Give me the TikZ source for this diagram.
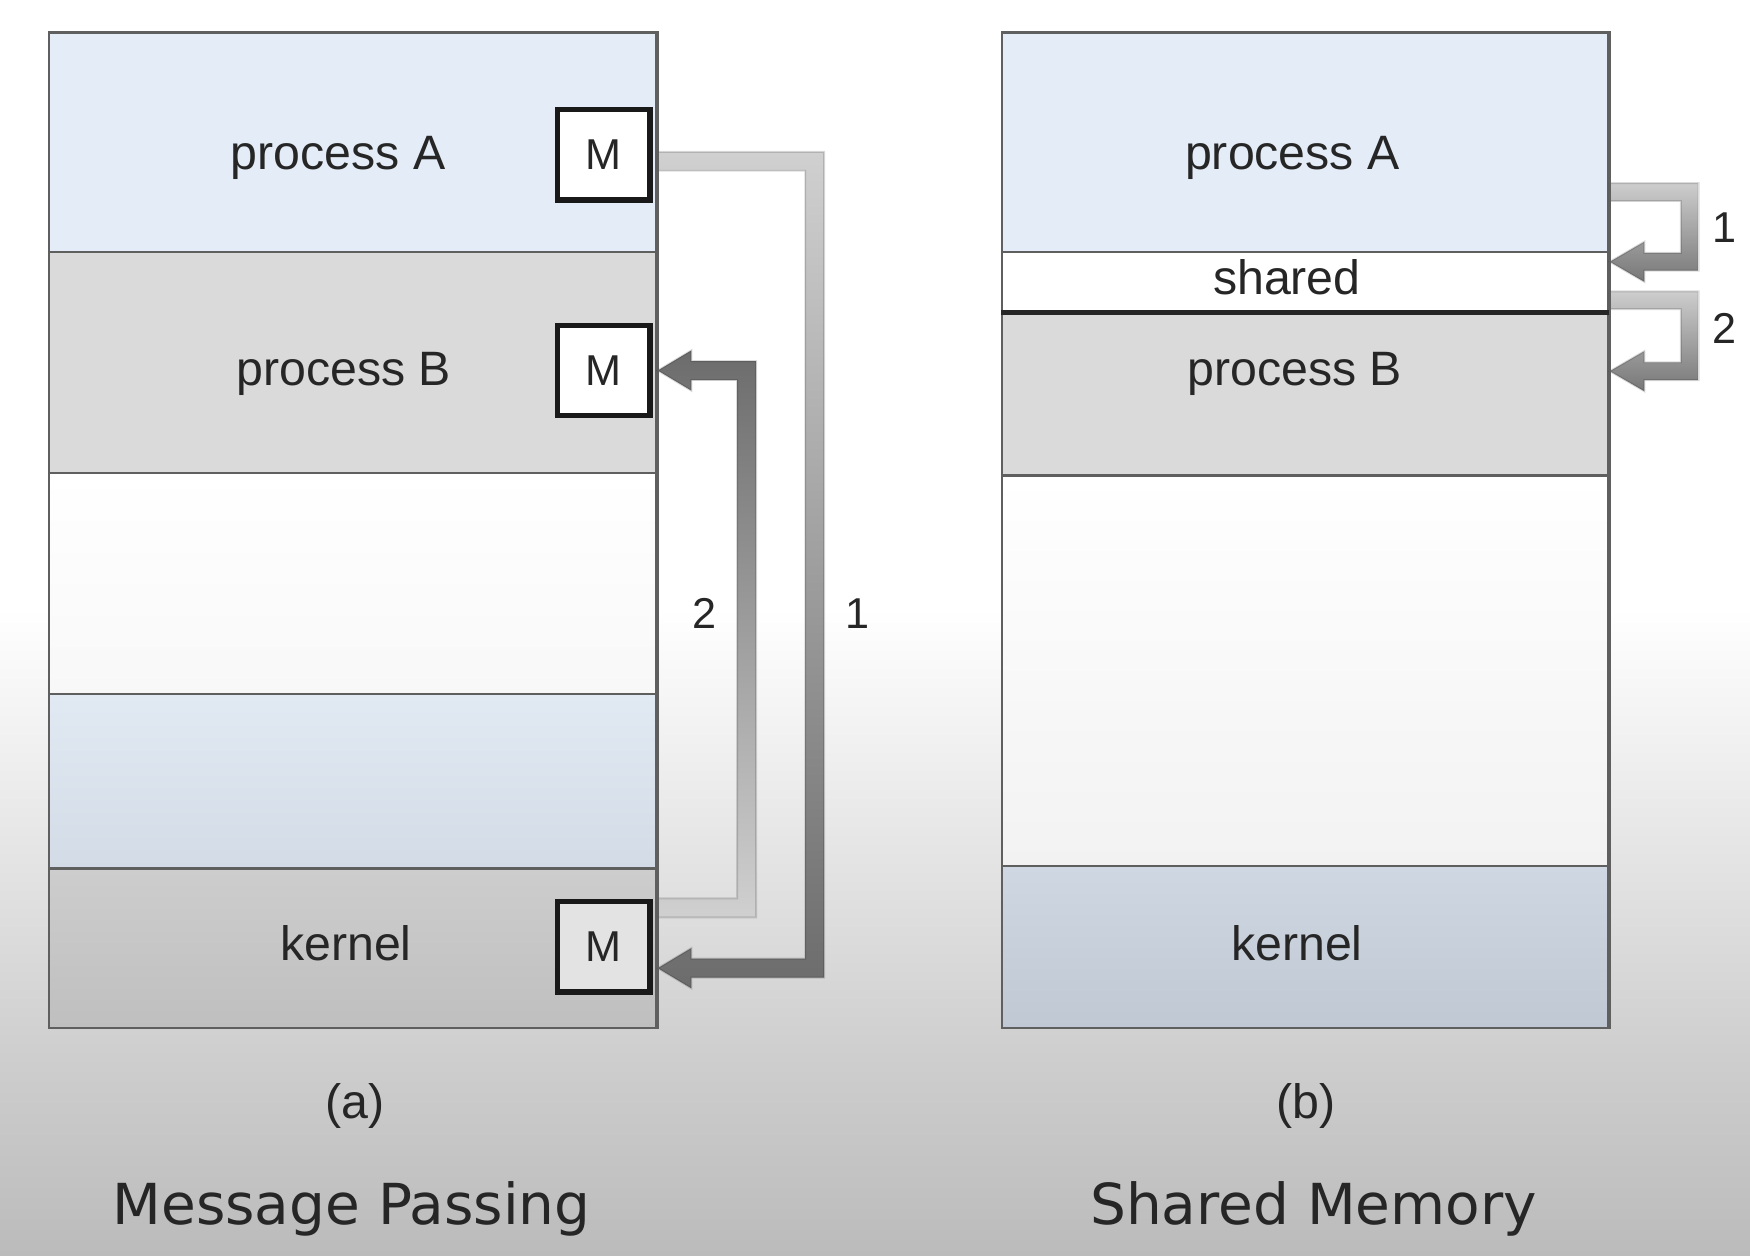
\documentclass[tikz,border=0pt]{standalone}
\usepackage{fontspec}
\setmainfont{Liberation Sans}
\newfontfamily\capfont{DejaVu Sans}
\usetikzlibrary{calc}
\definecolor{procA}{HTML}{E3ECF7}
\definecolor{procB}{HTML}{DADADA}
\definecolor{edgec}{HTML}{5F5F5F}
\definecolor{txt}{HTML}{262626}
\definecolor{lowAt}{HTML}{E1E9F3}
\definecolor{lowAb}{HTML}{D3DCE6}
\definecolor{kerLt}{HTML}{CDCDCD}
\definecolor{kerLb}{HTML}{BFBFBF}
\definecolor{kerRt}{HTML}{CFD8E2}
\definecolor{kerRb}{HTML}{C0C9D3}
\definecolor{whb}{HTML}{F8F8F8}
\definecolor{whRb}{HTML}{F2F2F2}
\definecolor{mkfill}{HTML}{E3E3E3}
\definecolor{arrL}{HTML}{D0D0D0}
\definecolor{arrD}{HTML}{6C6C6C}
\definecolor{arrRL}{HTML}{CDCDCD}
\definecolor{arrRD}{HTML}{777777}
\definecolor{bgA}{HTML}{F0F0F0}
\definecolor{bgB}{HTML}{DFDFDF}
\definecolor{bgC}{HTML}{CDCDCD}
\definecolor{bgD}{HTML}{BBBBBB}
\tikzset{
  sec/.style={rectangle, draw=edgec, line width=0.6pt, inner sep=0pt, anchor=north west},
  secL/.style={sec, minimum width=5.44cm},
  secR/.style={sec, minimum width=5.43cm},
  mbox/.style={rectangle, draw=black!90, line width=1.4pt, fill=white, minimum width=0.83cm, minimum height=0.81cm, inner sep=0pt, text=txt, font=\fontsize{11}{13}\selectfont},
  lbl/.style={anchor=base, inner sep=0pt, text=txt, font=\fontsize{12.3}{14}\selectfont},
  num/.style={anchor=base, inner sep=0pt, text=txt, font=\fontsize{11}{13}\selectfont},
  capt/.style={anchor=base, inner sep=0pt, text=txt, font=\capfont\fontsize{14.4}{17}\selectfont},
  bandedge/.style={draw=black, draw opacity=0.14, line width=0.5pt, line join=miter},
}
\begin{document}
\begin{tikzpicture}[x=0.01cm, y=-0.01cm]
\useasboundingbox (0,0) rectangle (1568,1125);
% background
\fill[white] (0,0) rectangle (1568,1125);
\shade[top color=white, bottom color=bgA] (0,545) rectangle (1568,670.5);
\shade[top color=bgA, bottom color=bgB] (0,670) rectangle (1568,810.5);
\shade[top color=bgB, bottom color=bgC] (0,810) rectangle (1568,955.5);
\shade[top color=bgC, bottom color=bgD] (0,955) rectangle (1568,1125);

% ----- left: message passing
\node[secL, fill=procA, minimum height=1.97cm] (LA) at (43,28) {};
\node[secL, fill=procB, minimum height=1.98cm] (LB) at (43,225) {};
\node[secL, top color=white, bottom color=whb, minimum height=1.98cm] (LW) at (43,423) {};
\node[secL, top color=lowAt, bottom color=lowAb, minimum height=1.56cm] (LL) at (43,621) {};
\node[secL, top color=kerLt, bottom color=kerLb, minimum height=1.43cm] (LK) at (43,777) {};

\node[lbl] (tLA) at (303,152) {process A};
\node[lbl] (tLB) at (308,345) {process B};
\node[lbl] (tLK) at (310,861) {kernel};

\node[mbox] (MA) at (541,138.5) {M};
\node[mbox] (MB) at (541,332) {M};
\node[mbox, fill=mkfill] (MK) at (541,848.5) {M};

% arrow 1 (A -> kernel)
\coordinate (a1s) at ($(MA.east -| LA.east)+(0,6)$);
\coordinate (a1t) at ($(MK.east -| LK.east)+(0,19)$);
\coordinate (a1c) at (730,0);
\shadedraw[top color=arrL, bottom color=arrD, bandedge]
  ($(a1s)+(0,-8.5)$) -- ($(a1c |- a1s)+(8.5,-8.5)$) -- ($(a1c |- a1t)+(8.5,8.5)$) --
  ($(a1t)+(30,8.5)$) -- ($(a1t)+(30,18)$) -- (a1t) -- ($(a1t)+(30,-18)$) --
  ($(a1t)+(30,-8.5)$) -- ($(a1c |- a1t)+(-8.5,-8.5)$) -- ($(a1c |- a1s)+(-8.5,8.5)$) --
  ($(a1s)+(0,8.5)$) -- cycle;
% arrow 2 (kernel -> B)
\coordinate (a2s) at ($(MK.north east -| LK.east)+(0,8)$);
\coordinate (a2t) at (MB.east -| LB.east);
\coordinate (a2c) at (669,0);
\shadedraw[top color=arrD, bottom color=arrL, bandedge]
  ($(a2s)+(0,8.5)$) -- ($(a2c |- a2s)+(8.5,8.5)$) -- ($(a2c |- a2t)+(8.5,-8.5)$) --
  ($(a2t)+(30,-8.5)$) -- ($(a2t)+(30,-18)$) -- (a2t) -- ($(a2t)+(30,18)$) --
  ($(a2t)+(30,8.5)$) -- ($(a2c |- a2t)+(-8.5,8.5)$) -- ($(a2c |- a2s)+(-8.5,-8.5)$) --
  ($(a2s)+(0,-8.5)$) -- cycle;
\draw[edgec, line width=0.6pt] (LA.north east) -- (LK.south east);
\node[mbox] at (MA) {M};
\node[mbox] at (MB) {M};
\node[mbox, fill=mkfill] at (MK) {M};

\node[num] (n2a) at (631,563) {2};
\node[num] (n1a) at (768,563) {1};

% ----- right: shared memory
\node[secR, fill=procA, minimum height=1.97cm] (RA) at (897,28) {};
\node[secR, fill=white, minimum height=0.53cm] (RS) at (897,225) {};
\node[secR, fill=procB, minimum height=1.47cm] (RB) at (897,278) {};
\node[secR, top color=white, bottom color=whRb, minimum height=3.50cm] (RW) at (897,425) {};
\node[secR, top color=kerRt, bottom color=kerRb, minimum height=1.45cm] (RK) at (897,775) {};
\draw[black!85, line width=1.1pt] (RS.south west) -- (RS.south east);

\node[lbl] (tRA) at (1158,152) {process A};
\node[lbl] (tRS) at (1153,264) {shared};
\node[lbl] (tRB) at (1160,345) {process B};
\node[lbl] (tRK) at (1162,861) {kernel};

\coordinate (b1s) at ($(RA.east)+(0,44.5)$);
\coordinate (b1t) at ($(RS.east)+(0,-18)$);
\coordinate (b1c) at (1514,0);
\shadedraw[top color=arrRL, bottom color=arrRD, bandedge]
  ($(b1s)+(0,-8)$) -- ($(b1c |- b1s)+(8,-8)$) -- ($(b1c |- b1t)+(8,8)$) --
  ($(b1t)+(31,8)$) -- ($(b1t)+(31,18)$) -- (b1t) -- ($(b1t)+(31,-18)$) --
  ($(b1t)+(31,-8)$) -- ($(b1c |- b1t)+(-8,-8)$) -- ($(b1c |- b1s)+(-8,8)$) --
  ($(b1s)+(0,8)$) -- cycle;
\coordinate (b2s) at ($(RS.east)+(0,16.5)$);
\coordinate (b2t) at ($(RB.east)+(0,-20)$);
\coordinate (b2c) at (1514,0);
\shadedraw[top color=arrRL, bottom color=arrRD, bandedge]
  ($(b2s)+(0,-8)$) -- ($(b2c |- b2s)+(8,-8)$) -- ($(b2c |- b2t)+(8,8)$) --
  ($(b2t)+(31,8)$) -- ($(b2t)+(31,18)$) -- (b2t) -- ($(b2t)+(31,-18)$) --
  ($(b2t)+(31,-8)$) -- ($(b2c |- b2t)+(-8,-8)$) -- ($(b2c |- b2s)+(-8,8)$) --
  ($(b2s)+(0,8)$) -- cycle;
\draw[edgec, line width=0.6pt] (RA.north east) -- (RK.south east);

\node[num] (n1b) at (1545,217) {1};
\node[num] (n2b) at (1545,308) {2};

% captions
\node[lbl] (ca) at (318,1002) {(a)};
\node[lbl] (cb) at (1170,1002) {(b)};
\node[capt] (cA) at (315,1097) {Message Passing};
\node[capt] (cB) at (1177,1097) {Shared Memory};
\end{tikzpicture}
\end{document}
